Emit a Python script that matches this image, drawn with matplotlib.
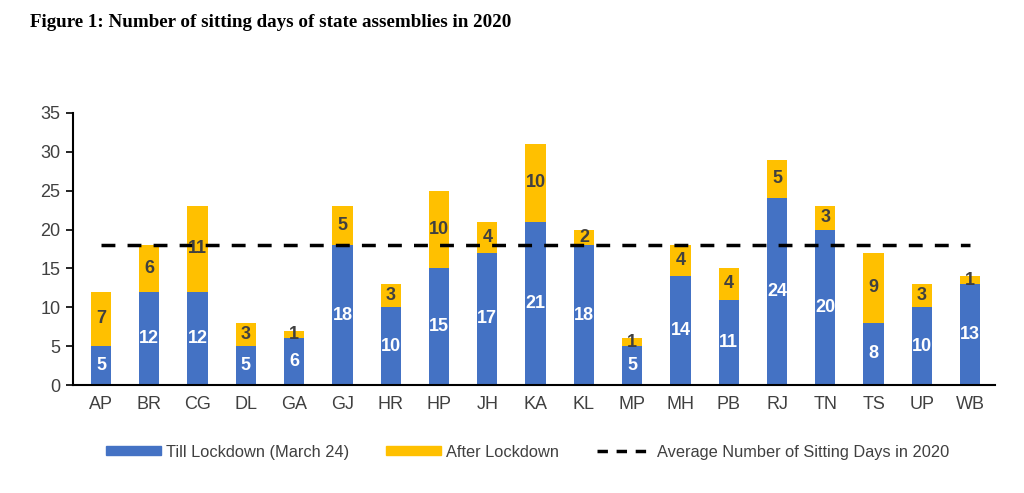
import matplotlib
matplotlib.use("Agg")
import matplotlib.pyplot as plt
from matplotlib.patches import Patch
from matplotlib.lines import Line2D
import numpy as np

states = ["AP", "BR", "CG", "DL", "GA", "GJ", "HR", "HP", "JH", "KA",
          "KL", "MP", "MH", "PB", "RJ", "TN", "TS", "UP", "WB"]
till_lockdown = [5, 12, 12, 5, 6, 18, 10, 15, 17, 21, 18, 5, 14, 11, 24, 20, 8, 10, 13]
after_lockdown = [7, 6, 11, 3, 1, 5, 3, 10, 4, 10, 2, 1, 4, 4, 5, 3, 9, 3, 1]
average_days = 18

BLUE = "#4472C4"
YELLOW = "#FFC000"
FONT = ["Liberation Sans Narrow", "Liberation Sans", "DejaVu Sans"]

fig = plt.figure(figsize=(10.24, 4.93), dpi=100)
ax = fig.add_axes([0.0713, 0.219, 0.9007, 0.552])

x = np.arange(len(states))
w = 0.42
ax.bar(x, till_lockdown, w, color=BLUE, label="Till Lockdown (March 24)")
ax.bar(x, after_lockdown, w, bottom=till_lockdown, color=YELLOW, label="After Lockdown")
ax.plot([x[0], x[-1]], [average_days, average_days], color="black", lw=2.5,
        dashes=(4, 3.5), label="Average Number of Sitting Days in 2020")

for xi, t, a in zip(x, till_lockdown, after_lockdown):
    ax.text(xi, t / 2, str(t), ha="center", va="center", color="white",
            fontsize=13, fontweight="bold", family=FONT)
    ax.text(xi, t + a / 2, str(a), ha="center", va="center", color="#404040",
            fontsize=13, fontweight="bold", family=FONT)

ax.set_ylim(0, 35)
ax.set_xlim(-0.58, 18.52)
ax.set_yticks(range(0, 36, 5))
ax.set_xticks(x)
ax.set_xticklabels(states)
for lbl in ax.get_xticklabels() + ax.get_yticklabels():
    lbl.set_family(FONT)
    lbl.set_fontsize(13)
    lbl.set_color("#404040")
ax.tick_params(axis="x", length=0, pad=8)
ax.tick_params(axis="y", length=5, width=1.2, direction="out", color="black", pad=4)
ax.spines["top"].set_visible(False)
ax.spines["right"].set_visible(False)
ax.spines["left"].set_linewidth(1.5)
ax.spines["bottom"].set_linewidth(1.5)

handles = [Patch(color=BLUE), Patch(color=YELLOW),
           Line2D([0], [0], color="black", lw=2.5, dashes=(3, 2.5))]
labels = ["Till Lockdown (March 24)", "After Lockdown", "Average Number of Sitting Days in 2020"]
leg = fig.legend(handles, labels, loc="center", bbox_to_anchor=(0.515, 0.083), ncol=3,
                 frameon=False, handlelength=3.35, handleheight=0.5, columnspacing=2.3,
                 handletextpad=0.3, prop={"family": FONT, "size": 11.8})
for t in leg.get_texts():
    t.set_color("#404040")

fig.text(0.029, 0.955, "Figure 1: Number of sitting days of state assemblies in 2020",
         fontsize=13.7, fontweight="bold", family=["Liberation Serif", "DejaVu Serif"],
         va="center", ha="left")

fig.savefig("out.png", dpi=100)
